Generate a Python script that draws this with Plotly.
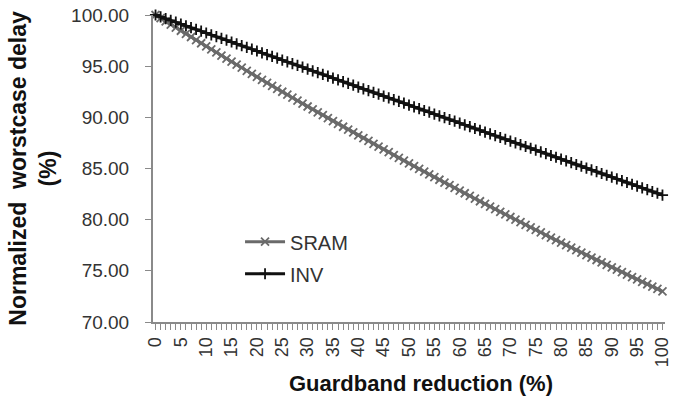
import plotly.graph_objects as go

# Guardband reduction steps (%)
reduction = [str(i) for i in range(0, 101)]

# Normalized worst-case delay (%) per reduction step
sram_delay = [
    100.00, 99.69, 99.38, 99.07, 98.77, 98.46, 98.15, 97.85, 97.55, 97.24,
    96.94, 96.64, 96.34, 96.04, 95.74, 95.44, 95.14, 94.85, 94.55, 94.25,
    93.96, 93.67, 93.37, 93.08, 92.79, 92.50, 92.21, 91.92, 91.63, 91.35,
    91.06, 90.78, 90.49, 90.21, 89.92, 89.64, 89.36, 89.08, 88.80, 88.52,
    88.24, 87.96, 87.69, 87.41, 87.13, 86.86, 86.59, 86.31, 86.04, 85.77,
    85.50, 85.23, 84.96, 84.69, 84.43, 84.16, 83.90, 83.63, 83.37, 83.10,
    82.84, 82.58, 82.32, 82.06, 81.80, 81.54, 81.28, 81.03, 80.77, 80.51,
    80.26, 80.01, 79.75, 79.50, 79.25, 79.00, 78.75, 78.50, 78.25, 78.01,
    77.76, 77.51, 77.27, 77.03, 76.78, 76.54, 76.30, 76.06, 75.82, 75.58,
    75.34, 75.11, 74.87, 74.63, 74.39, 74.16, 73.93, 73.69, 73.46, 73.23,
    73.00,
]

inv_delay = [
    100.00, 99.82, 99.65, 99.47, 99.30, 99.12, 98.94, 98.77, 98.59, 98.42,
    98.24, 98.06, 97.89, 97.71, 97.54, 97.36, 97.18, 97.01, 96.83, 96.66,
    96.48, 96.30, 96.13, 95.95, 95.78, 95.60, 95.42, 95.25, 95.07, 94.90,
    94.72, 94.54, 94.37, 94.19, 94.02, 93.84, 93.66, 93.49, 93.31, 93.14,
    92.96, 92.78, 92.61, 92.43, 92.26, 92.08, 91.90, 91.73, 91.55, 91.38,
    91.20, 91.02, 90.85, 90.67, 90.50, 90.32, 90.14, 89.97, 89.79, 89.62,
    89.44, 89.26, 89.09, 88.91, 88.74, 88.56, 88.38, 88.21, 88.03, 87.86,
    87.68, 87.50, 87.33, 87.15, 86.98, 86.80, 86.62, 86.45, 86.27, 86.10,
    85.92, 85.74, 85.57, 85.39, 85.22, 85.04, 84.86, 84.69, 84.51, 84.34,
    84.16, 83.98, 83.81, 83.63, 83.46, 83.28, 83.10, 82.93, 82.75, 82.58,
    82.40,
]

# Only every fifth step gets a label; every step gets a tick mark
tick_text = [r if int(r) % 5 == 0 else "" for r in reduction]

FONT = "Liberation Sans, Arial, sans-serif"
SRAM_COLOR = "#6a6a6a"
INV_COLOR = "#111111"

fig = go.Figure()
fig.add_trace(go.Scatter(
    x=reduction, y=sram_delay, name="SRAM", mode="lines+markers",
    legendgroup="sram",
    line=dict(color=SRAM_COLOR, width=3),
    marker=dict(symbol="x-thin", size=8, line=dict(color=SRAM_COLOR, width=1.8)),
    cliponaxis=False,
))
fig.add_trace(go.Scatter(
    x=reduction, y=inv_delay, name="INV", mode="lines+markers",
    legendgroup="inv",
    line=dict(color=INV_COLOR, width=3),
    marker=dict(symbol="cross-thin", size=8, line=dict(color=INV_COLOR, width=1.8)),
    cliponaxis=False,
))

fig.update_layout(
    width=683, height=398,
    margin=dict(l=153, r=18, t=15, b=76, autoexpand=False),
    paper_bgcolor="white", plot_bgcolor="white",
    font=dict(family=FONT, color="#333333"),
    showlegend=True,
    legend=dict(
        x=0.17, y=0.325, xanchor="left", yanchor="top",
        bgcolor="rgba(0,0,0,0)", font=dict(size=20, color="#333333"),
        itemwidth=40, tracegroupgap=3,
    ),
    xaxis=dict(
        type="category", range=[-0.5, 100.5], automargin=False,
        tickmode="array", tickvals=reduction, ticktext=tick_text,
        tickangle=-90, tickfont=dict(size=18, color="#333333"),
        ticks="outside", ticklen=6, tickcolor="#8a8a8a", tickwidth=1,
        showline=True, linecolor="#8a8a8a", linewidth=2,
        showgrid=False, zeroline=False,
    ),
    yaxis=dict(
        range=[70, 100], dtick=5, tickformat=".2f", automargin=False,
        tickfont=dict(size=19, color="#333333"), ticklabelstandoff=12,
        ticks="outside", ticklen=6, tickcolor="#8a8a8a", tickwidth=1,
        showline=True, linecolor="#8a8a8a", linewidth=2,
        showgrid=False, zeroline=False,
        title=dict(text="<b>Normalized  worstcase delay<br>(%)</b>",
                   font=dict(size=23, color="#111111"), standoff=8),
    ),
    annotations=[dict(
        text="<b>Guardband reduction (%)</b>",
        xref="paper", yref="paper", x=0.523, y=-0.199,
        xanchor="center", yanchor="middle", showarrow=False,
        font=dict(size=22, color="#111111"),
    )],
)

fig.write_html("out.html")
